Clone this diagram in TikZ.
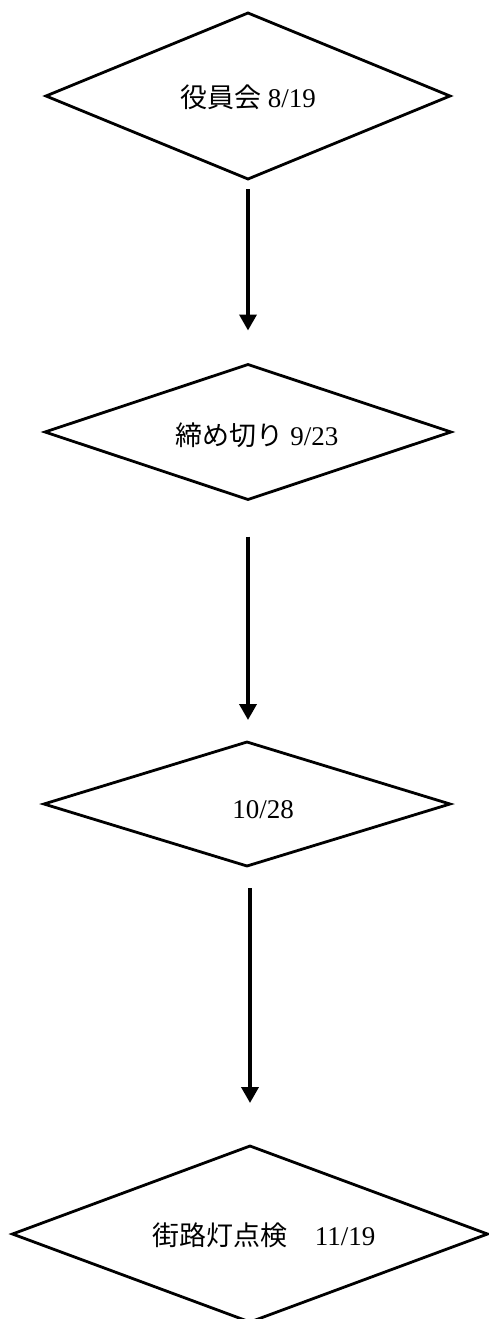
\documentclass[tikz,border=0pt]{standalone}
\usepackage{fontspec}
\setmainfont{Liberation Serif}
\newfontfamily\cjk{Noto Sans CJK JP}
\usetikzlibrary{shapes.geometric,arrows.meta}
\tikzset{
  dia/.style={draw=black, line width=2.8pt, shape=diamond, inner sep=0pt, outer sep=0pt},
  lbl/.style={font=\fontsize{27}{31}\selectfont, inner sep=0pt, anchor=center},
  flow/.style={line width=3.6pt, -{Triangle[width=17pt,length=16pt]}}
}
\begin{document}
\begin{tikzpicture}[x=1pt,y=-1pt]
\useasboundingbox (0,0) rectangle (489,1319);
\node[dia, minimum width=404pt, minimum height=166pt] (d1) at (248,96) {};
\node[dia, minimum width=406pt, minimum height=135pt] (d2) at (248,432) {};
\node[dia, minimum width=406pt, minimum height=124pt] (d3) at (247,804) {};
\node[dia, minimum width=475pt, minimum height=176pt] (d4) at (250,1234) {};
\node[lbl] (t1) at (248,97) {{\cjk 役員会} 8/19};
\node[lbl] (t2) at (257,435) {{\cjk 締め切り} 9/23};
\node[lbl] (t3) at (263,810) {10/28};
\node[lbl] (t4) at (264,1235) {{\cjk 街路灯点検　}11/19};
\coordinate (a1s) at ([yshift=-10pt]d1.south);
\coordinate (a1e) at ([yshift=34pt]d2.north);
\coordinate (a2s) at ([yshift=-37pt]d2.south);
\coordinate (a2e) at ([yshift=22pt]d3.north);
\coordinate (a3s) at ([xshift=3pt,yshift=-22pt]d3.south);
\coordinate (a3e) at ([yshift=43pt]d4.north);
\draw[flow] (a1s) -- (a1s |- a1e);
\draw[flow] (a2s) -- (a2s |- a2e);
\draw[flow] (a3s) -- (a3s |- a3e);
\end{tikzpicture}
\end{document}
